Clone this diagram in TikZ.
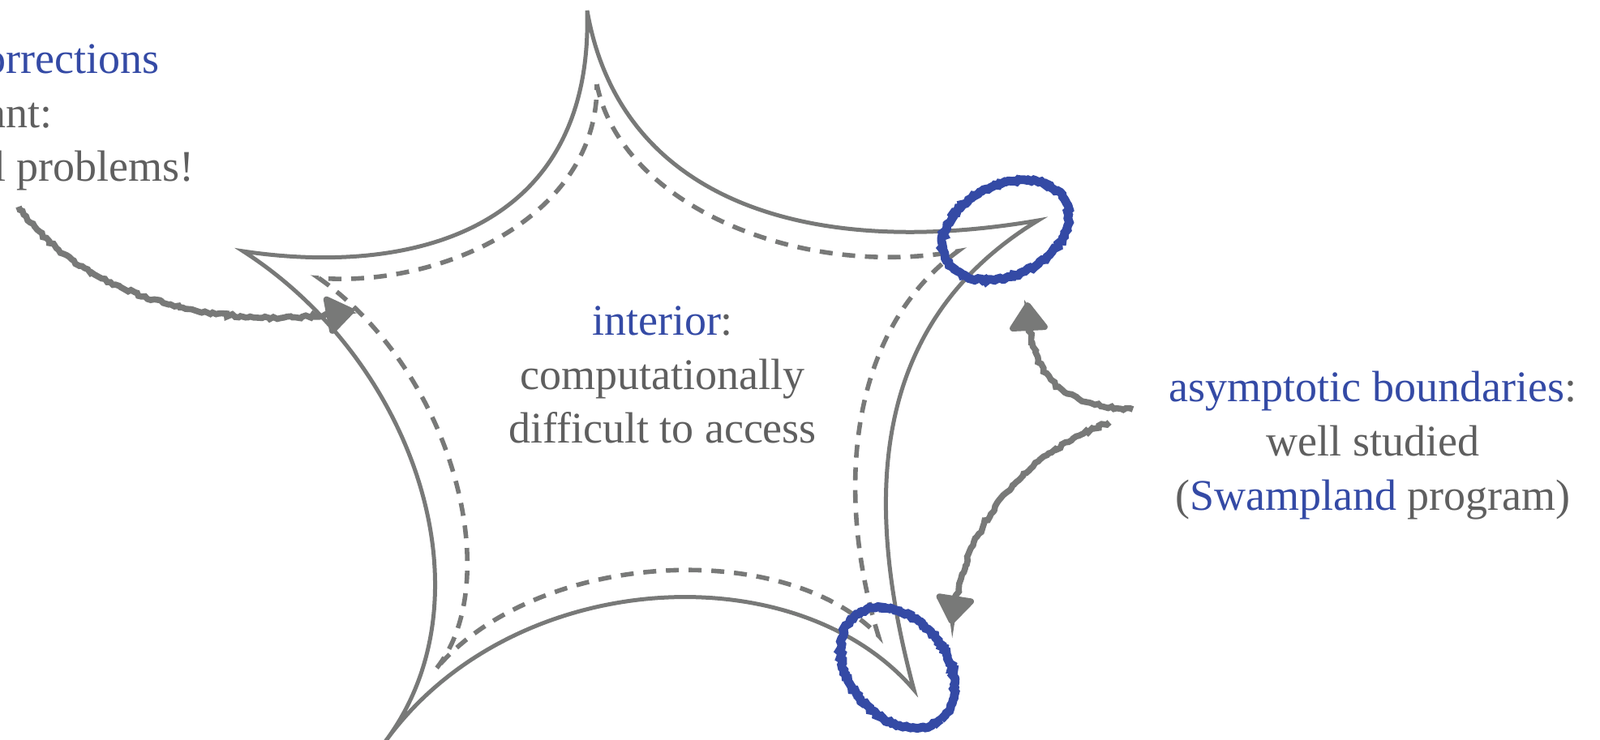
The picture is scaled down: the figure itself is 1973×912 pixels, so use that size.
\documentclass[tikz,border=0pt]{standalone}
\usepackage{fontspec}
\setmainfont{Liberation Serif}
\usetikzlibrary{arrows.meta,decorations.pathmorphing}
\definecolor{lgray}{RGB}{120,121,120}
\definecolor{tgray}{RGB}{95,95,95}
\definecolor{sblue}{RGB}{52,74,165}
\begin{document}
\begin{tikzpicture}[x=0.5pt,y=-0.5pt,
  outline/.style={draw=lgray,line width=2.5pt},
  innerline/.style={draw=lgray,line width=2.8pt,dash pattern=on 8pt off 6pt},
  ring/.style={draw=sblue,line width=5.4pt,decorate,decoration={random steps,segment length=1.5pt,amplitude=0.8pt}},
  sketcharrow/.style={draw=lgray,line width=3.8pt,decorate,
    decoration={random steps,segment length=2pt,amplitude=0.9pt,post length=5pt},
    -{Triangle[round,length=19pt,width=26pt]}},
  txt/.style={font=\fontsize{27}{33}\selectfont,text=tgray,inner sep=0pt,anchor=base}
]
\useasboundingbox (0,0) rectangle (1973,912);
\clip (0,0) rectangle (1973,912);

% cusps of the outer contour
\coordinate (T)  at (724,13);
\coordinate (UR) at (1280,272);
\coordinate (BR) at (1127,851);
\coordinate (BL) at (475,915);
\coordinate (UL) at (300,310);
% cusps of the dashed contour
\coordinate (Ti)  at (736,104);
\coordinate (URi) at (1181,310);
\coordinate (BRi) at (1083,784);
\coordinate (BLi) at (537,826);
\coordinate (ULi) at (393,343);

\draw[outline] (T) .. controls (765,250) and (1000,320) .. (UR)
  .. controls (1070,400) and (1065,620) .. (BR)
  .. controls (980,680) and (630,700) .. (BL)
  .. controls (610,735) and (510,445) .. (UL)
  .. controls (500,340) and (732,290) .. cycle;

\draw[innerline] (Ti) .. controls (765,250) and (980,345) .. (URi)
  .. controls (1045,410) and (1030,610) .. (BRi)
  .. controls (965,662) and (660,680) .. (BLi)
  .. controls (625,720) and (560,460) .. (ULi)
  .. controls (540,355) and (738,270) .. cycle;

% blue rings at the asymptotic boundaries
\coordinate (E1) at (1240,284);
\coordinate (E2) at (1107,824);
\draw[ring,rotate around={25:(E1)}] (E1) ellipse [x radius=82, y radius=56];
\draw[ring,rotate around={-50:(E2)}] (E2) ellipse [x radius=83, y radius=60];

% texts
\node[txt,text=sblue,anchor=base east] (lt1) at (197,90) {orrections};
\node[txt,anchor=base east] (lt2) at (65,157) {ant:};
\node[txt,anchor=base east] (lt3) at (240,223) {l problems!};

\node[txt] (in1) at (817,413) {\textcolor{sblue}{interior}:};
\node[txt] (in2) at (817,480) {computationally};
\node[txt] (in3) at (817,546) {difficult to access};

\node[txt] (rt1) at (1693,495) {\textcolor{sblue}{asymptotic boundaries}:};
\node[txt] (rt2) at (1693,562) {well studied};
\node[txt] (rt3) at (1693,629) {(\textcolor{sblue}{Swampland} program)};

% arrows
\coordinate (a1s) at (23,255);
\coordinate (a1e) at (437,383);
\coordinate (a2s) at (1397,505);
\coordinate (a2e) at (1267,373);
\coordinate (a3s) at (1368,521);
\coordinate (a3e) at (1173,770);
\draw[sketcharrow] (a1s) .. controls (110,380) and (300,410) .. (a1e);
\draw[sketcharrow] (a2s) .. controls (1300,500) and (1270,460) .. (a2e);
\draw[sketcharrow] (a3s) .. controls (1280,555) and (1195,620) .. (a3e);
\end{tikzpicture}
\end{document}
